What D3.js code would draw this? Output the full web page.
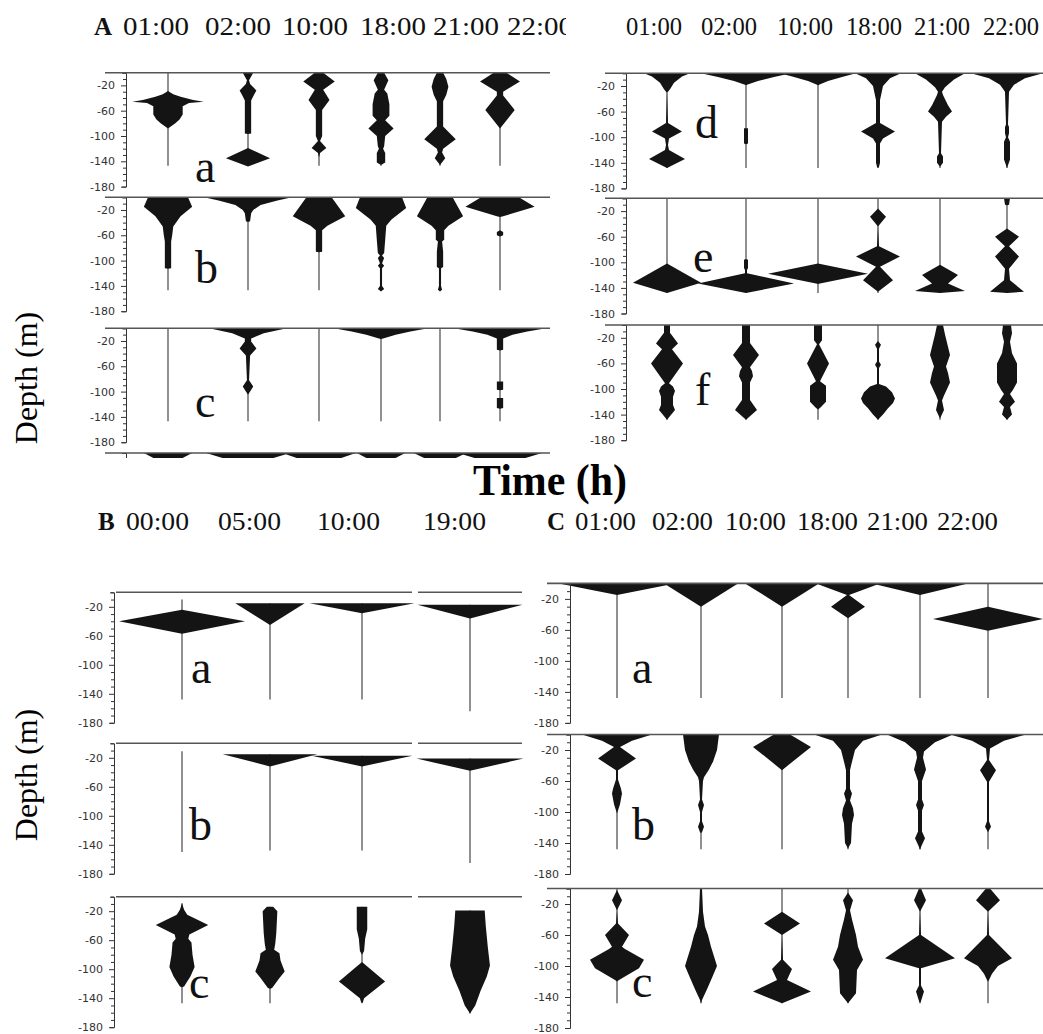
<!DOCTYPE html>
<html>
<head>
<meta charset="utf-8">
<script src="https://cdn.jsdelivr.net/npm/d3@7"></script>
<style>
body { margin: 0; background: #fff; }
svg { display: block; }
.kite { fill: #141414; }
.stem { stroke: #555; stroke-width: 1.3; }
.top { stroke: #555; stroke-width: 1.6; }
.axis path, .axis line { stroke: #333; stroke-width: 1; }
.hdr { font-family: "Liberation Serif", serif; font-size: 25px; fill: #111; }
.lab { font-family: "Liberation Serif", serif; font-size: 46px; fill: #111; }
</style>
</head>
<body>
<svg id="chart" width="1043" height="1034"></svg>
<script>

// sampling times
var timesA = ["01:00", "02:00", "10:00", "18:00", "21:00", "22:00"];
var timesB = ["00:00", "05:00", "10:00", "19:00"];
var timesC = ["01:00", "02:00", "10:00", "18:00", "21:00", "22:00"];

// kite profiles: [depth (m), half width (relative abundance)] for each time

// panel A, a-c
var kitesAa = [
    [[29,0],[34,5],[38,12],[43,24],[46,34],[48,20],[53,14],[66,14],[74,11],[80,7],[88,0]],
    [[0,5],[6,3],[12,1],[18,2],[28,8],[34,6],[44,3],[96,3],[97,0],[119,0],[135,21],[148,0]],
    [[0,4],[14,15],[27,4],[43,10],[59,3],[100,3],[108,1],[119,7],[127,1],[134,0]],
    [[0,3],[12,7],[27,3],[33,6],[50,8],[68,8],[75,4],[88,12],[100,4],[116,3],[120,2],[127,4],[142,4],[146,0]],
    [[0,3],[10,6],[22,8],[35,6],[45,3],[85,3],[105,15],[120,3],[126,2],[135,5],[146,0]],
    [[0,6],[14,19],[30,3],[36,3],[59,14],[88,0]]
];
var kitesAb = [
    [[0,19],[15,23],[30,12],[46,5],[60,4],[70,3],[112,3],[113,0]],
    [[0,42],[5,28],[12,12],[20,5],[25,3],[38,2],[39,0]],
    [[0,12],[30,25],[45,8],[52,3],[86,3],[87,0]],
    [[0,20],[17,24],[35,10],[45,5],[67,4],[88,3],[92,1],[96,3],[104,1],[108,3],[112,1],[140,1],[145,3],[149,0]],
    [[0,12],[30,22],[45,8],[52,4],[67,4],[70,2],[86,3],[110,3],[112,1],[140,1],[146,2],[149,0]],
    [[0,18],[15,33],[30,3],[31,0],[52,0],[55,3],[60,3],[62,0]]
];
var kitesAc = [
    [],
    [[0,37],[8,15],[16,3],[21,3],[32,8],[43,2],[82,1],[92,5],[100,2],[105,0]],
    [],
    [[0,45],[5,28],[10,14],[16,2],[17,0]],
    [],
    [[0,44],[5,26],[10,12],[16,3],[34,3],[35,0],[84,0],[84,3],[97,3],[98,0],[110,0],[110,3],[126,3],[127,0]]
];
// next row, cut off at the bottom of the panel
var kitesAg = [
    [[0,23],[20,0]], [[0,40],[20,0]], [[0,35],[20,0]],
    [[0,23],[20,0]], [[0,25],[20,0]], [[0,40],[20,0]]
];

// panel A, d-f
var kitesAd = [
    [[0,23],[5,15],[15,7],[25,3],[29,1],[30,0],[78,1],[91,15],[102,2],[112,1],[120,2],[134,18],[148,0]],
    [[0,45],[6,28],[12,12],[18,1],[19,0],[86,0],[86,2],[110,2],[111,0]],
    [[0,38],[6,24],[12,10],[18,1],[19,0]],
    [[0,23],[8,12],[20,5],[35,3],[42,2],[78,2],[91,17],[102,5],[110,2],[140,2],[146,1],[148,0]],
    [[0,25],[10,14],[22,5],[29,2],[34,3],[50,8],[60,12],[68,6],[76,2],[125,1],[130,3],[140,3],[146,0]],
    [[0,36],[8,18],[18,7],[29,2],[80,1],[84,2],[94,2],[100,1],[107,3],[135,3],[148,0]]
];
var kitesAe = [
    [[102,0],[132,34],[148,0]],
    [[95,0],[96,2],[109,2],[112,1],[117,1],[133,48],[148,0]],
    [[102,0],[118,50],[133,2],[134,0]],
    [[16,0],[29,8],[44,0],[75,1],[91,22],[107,2],[128,15],[146,0]],
    [[104,0],[120,18],[133,8],[145,25],[148,0]],
    [[0,3],[10,2],[11,0],[47,0],[60,12],[75,2],[91,12],[110,2],[128,3],[146,17],[148,0]]
];
var kitesAf = [
    [[0,3],[12,3],[29,11],[38,5],[60,16],[91,2],[96,6],[103,8],[112,6],[125,6],[133,8],[148,0]],
    [[0,4],[28,4],[47,13],[66,4],[72,6],[80,7],[90,4],[117,4],[133,11],[148,0]],
    [[0,4],[24,4],[30,1],[60,11],[88,2],[95,8],[120,8],[128,3],[131,1],[132,0]],
    [[25,0],[31,3],[37,1],[57,1],[62,3],[67,1],[92,1],[96,8],[105,14],[115,17],[122,15],[130,10],[140,5],[148,0]],
    [[0,3],[15,5],[47,10],[65,6],[75,8],[90,10],[110,4],[118,2],[133,4],[146,0]],
    [[0,4],[13,5],[26,3],[44,5],[60,10],[90,10],[101,6],[108,3],[120,8],[128,3],[140,5],[148,0]]
];

// panel B
var kitesBa = [
    [[24,0],[40,60],[57,0]],
    [[15,33],[45,0]],
    [[15,50],[29,0]],
    [[17,50],[36,0]]
];
var kitesBb = [
    [],
    [[15,45],[32,0]],
    [[17,48],[32,0]],
    [[21,51],[38,0]]
];
var kitesBc = [
    [[9,0],[18,2],[25,5],[39,25],[52,7],[58,6],[63,9],[80,10],[97,12],[110,8],[124,2],[125,0]],
    [[14,3],[20,7],[50,6],[65,5],[73,4],[78,9],[88,10],[103,14],[112,9],[120,5],[126,2],[127,0]],
    [[14,5],[45,5],[58,3],[75,2],[80,0],[90,0],[117,22],[140,2],[145,1],[147,0]],
    [[19,14],[40,15],[70,17],[95,19],[110,16],[130,10],[150,5],[161,0]]
];

// panel C
var kitesCa = [
    [[0,58],[15,0]],
    [[0,37],[30,0]],
    [[0,37],[30,0]],
    [[0,32],[15,1],[30,17],[45,0]],
    [[0,48],[15,0]],
    [[30,0],[46,55],[61,0]]
];
var kitesCb = [
    [[0,35],[8,15],[16,3],[31,19],[46,1],[58,1],[70,4],[76,5],[90,3],[102,0]],
    [[0,18],[20,16],[35,12],[45,8],[55,3],[60,2],[84,1],[91,3],[100,1],[112,1],[119,3],[126,1],[127,0]],
    [[0,8],[16,29],[46,0]],
    [[0,34],[8,15],[20,7],[35,4],[46,2],[70,2],[76,4],[85,2],[95,5],[104,6],[115,4],[140,3],[147,0]],
    [[0,33],[10,15],[22,4],[30,3],[45,6],[60,2],[84,2],[91,4],[98,2],[125,2],[134,5],[145,1],[149,0]],
    [[0,38],[8,16],[18,2],[33,1],[46,8],[61,1],[112,1],[119,3],[126,0]]
];
var kitesCc = [
    [[2,0],[15,5],[28,0],[45,1],[60,12],[75,5],[78,8],[92,27],[103,22],[118,2],[120,0]],
    [[0,1],[30,2],[49,4],[60,7],[75,10],[100,16],[115,11],[130,6],[144,1],[148,0]],
    [[30,0],[45,18],[60,0],[92,1],[104,10],[118,5],[133,29],[148,0]],
    [[5,0],[15,5],[28,2],[40,4],[60,8],[75,10],[92,15],[105,9],[135,8],[148,0]],
    [[0,1],[15,6],[30,0],[60,1],[90,35],[103,1],[125,1],[133,4],[145,1],[148,0]],
    [[0,2],[15,12],[30,0],[60,1],[90,24],[100,10],[110,4],[118,1],[120,0]]
];

// sampled depth range (m) for each time
var stemsA1 = [[0,147],[0,147],[0,147],[0,147],[0,147],[0,147]];
var stemsA2 = [[0,148],[0,148],[0,148],[0,148],[0,148],[0,148]];
var stemsBa = [[10,148],[15,148],[15,148],[17,164]];
var stemsBb = [[11,150],[15,148],[17,148],[21,165]];
var stemsBc = [[9,147],[14,147],[14,147],[19,161]];
var stemsC = [[0,148],[0,148],[0,148],[0,148],[0,148],[0,148]];

// layout
var svg = d3.select("#chart");

var panels = [
    {times: timesA, colX: [168,248,319,381,440,500], axisX: 126, lineX: [[105,550]], k: 0.633, wk: 1.05, stems: stemsA1,
     rows: [{kites: kitesAa, top: 72.7, label: "a", lx: 195, ly: 182},
            {kites: kitesAb, top: 197.3, label: "b", lx: 195, ly: 283},
            {kites: kitesAc, top: 328.3, label: "c", lx: 195, ly: 417},
            {kites: kitesAg, top: 453, label: "", clip: [453, 458]}],
     hdr: {letter: "A", lx: 94, xs: [123,205,282,360,433,507], len: 66, y: 35, clipX: 566}},
    {times: timesA, colX: [667,746,818,878,940,1007], axisX: 626, lineX: [[605,1043]], k: 0.64, wk: 1, stems: stemsA2,
     rows: [{kites: kitesAd, top: 73.2, label: "d", lx: 695, ly: 138},
            {kites: kitesAe, top: 198.3, label: "e", lx: 693, ly: 272},
            {kites: kitesAf, top: 325, label: "f", lx: 695, ly: 405}],
     hdr: {letter: "", lx: 0, xs: [626,701,777,846,914,983], len: 56, y: 35}},
    {times: timesB, colX: [182,270,362,470], axisX: 114, lineX: [[116,412],[418,522]], k: 0.725, wk: 1.05,
     rows: [{kites: kitesBa, stems: stemsBa, top: 592.3, label: "a", lx: 191, ly: 683},
            {kites: kitesBb, stems: stemsBb, top: 743.3, label: "b", lx: 189, ly: 840},
            {kites: kitesBc, stems: stemsBc, top: 896.7, label: "c", lx: 189, ly: 998}],
     hdr: {letter: "B", lx: 98, xs: [126,218,317,423], len: 63, y: 530}},
    {times: timesC, colX: [617,701,782,848,920,988], axisX: 570, lineX: [[547,1043]], k: 0.775, wk: 1, stems: stemsC,
     rows: [{kites: kitesCa, top: 583.4, label: "a", lx: 632, ly: 683},
            {kites: kitesCb, top: 734.5, label: "b", lx: 632, ly: 840},
            {kites: kitesCc, top: 888.5, label: "c", lx: 632, ly: 997}],
     hdr: {letter: "C", lx: 547, xs: [575,652,725,797,867,937], len: 61, y: 530}}
];

var clipCount = 0;

function drawRow(p, r) {
    var y = d3.scaleLinear().domain([0, 180]).range([r.top, r.top + 180 * p.k]);
    var w = d3.scaleLinear().domain([0, 10]).range([0, 10 * p.wk]);
    var x = d3.scaleOrdinal().domain(p.times).range(p.colX);
    var stems = r.stems || p.stems;

    var g = svg.append("g");
    if (r.clip) {
        var id = "clip" + (clipCount++);
        svg.append("clipPath").attr("id", id).append("rect")
            .attr("x", 0).attr("y", r.clip[0] - 1)
            .attr("width", 1043).attr("height", r.clip[1] - r.clip[0] + 1);
        g.attr("clip-path", "url(#" + id + ")");
    }

    if (!r.clip) {
        g.selectAll(".stem")
            .data(p.times)
            .join("line")
            .attr("class", "stem")
            .attr("x1", d => x(d)).attr("x2", d => x(d))
            .attr("y1", (d, i) => y(stems[i][0]))
            .attr("y2", (d, i) => y(stems[i][1]));
    }

    g.selectAll(".kite")
        .data(p.times)
        .join("path")
        .attr("class", "kite")
        .attr("d", function(t, i) {
            var cx = x(t);
            var prof = r.kites[i];
            if (!prof.length) return null;
            return d3.area()
                .x0(d => cx - w(d[1]))
                .x1(d => cx + w(d[1]))
                .y(d => y(d[0]))(prof);
        });

    // the cut-off row keeps only its top edge, no tick labels
    var axis = d3.axisLeft(y)
        .tickValues(d3.range(0, 181, 10))
        .tickFormat(d => !r.clip && d % 40 === 20 ? "-" + d : "")
        .tickSizeInner(3)
        .tickSizeOuter(4)
        .tickPadding(8);

    var ag = g.append("g")
        .attr("class", "axis")
        .attr("transform", "translate(" + p.axisX + ",0)")
        .call(axis)
        .attr("font-family", "DejaVu Sans")
        .attr("font-size", 11);
    ag.selectAll(".tick line").attr("x2", d => d % 40 === 20 ? -5 : -3);
    ag.selectAll(".tick text").attr("fill", "#333");
    if (r.clip) ag.selectAll(".tick text").remove();

    p.lineX.forEach(function(seg) {
        g.append("line")
            .attr("class", "top")
            .attr("x1", seg[0]).attr("x2", seg[1])
            .attr("y1", y(0)).attr("y2", y(0));
    });

    if (r.label) {
        svg.append("text")
            .attr("class", "lab")
            .attr("x", r.lx).attr("y", r.ly)
            .text(r.label);
    }
}

panels.forEach(function(p) {
    p.rows.forEach(function(r) { drawRow(p, r); });

    var h = p.hdr;
    var hg = svg.append("g");
    if (h.clipX) {
        svg.append("clipPath").attr("id", "hclip").append("rect")
            .attr("x", 0).attr("y", 0).attr("width", h.clipX).attr("height", 60);
        hg.attr("clip-path", "url(#hclip)");
    }
    if (h.letter) {
        hg.append("text").attr("class", "hdr")
            .attr("x", h.lx).attr("y", h.y)
            .attr("font-weight", "bold")
            .text(h.letter);
    }
    var hx = d3.scaleOrdinal().domain(p.times).range(h.xs);
    hg.selectAll(".tl")
        .data(p.times)
        .join("text")
        .attr("class", "hdr tl")
        .attr("x", d => hx(d))
        .attr("y", h.y)
        .attr("textLength", h.len)
        .attr("lengthAdjust", "spacingAndGlyphs")
        .text(d => d);
});

// axis titles
svg.append("text")
    .attr("x", 473).attr("y", 495)
    .attr("font-family", "Liberation Serif")
    .attr("font-weight", "bold")
    .attr("font-size", 44)
    .attr("textLength", 154)
    .attr("lengthAdjust", "spacingAndGlyphs")
    .text("Time (h)");

[378, 775].forEach(function(cy) {
    svg.append("text")
        .attr("transform", "translate(37," + cy + ") rotate(-90)")
        .attr("text-anchor", "middle")
        .attr("font-family", "Liberation Serif")
        .attr("font-size", 32)
        .text("Depth (m)");
});

</script>
</body>
</html>
